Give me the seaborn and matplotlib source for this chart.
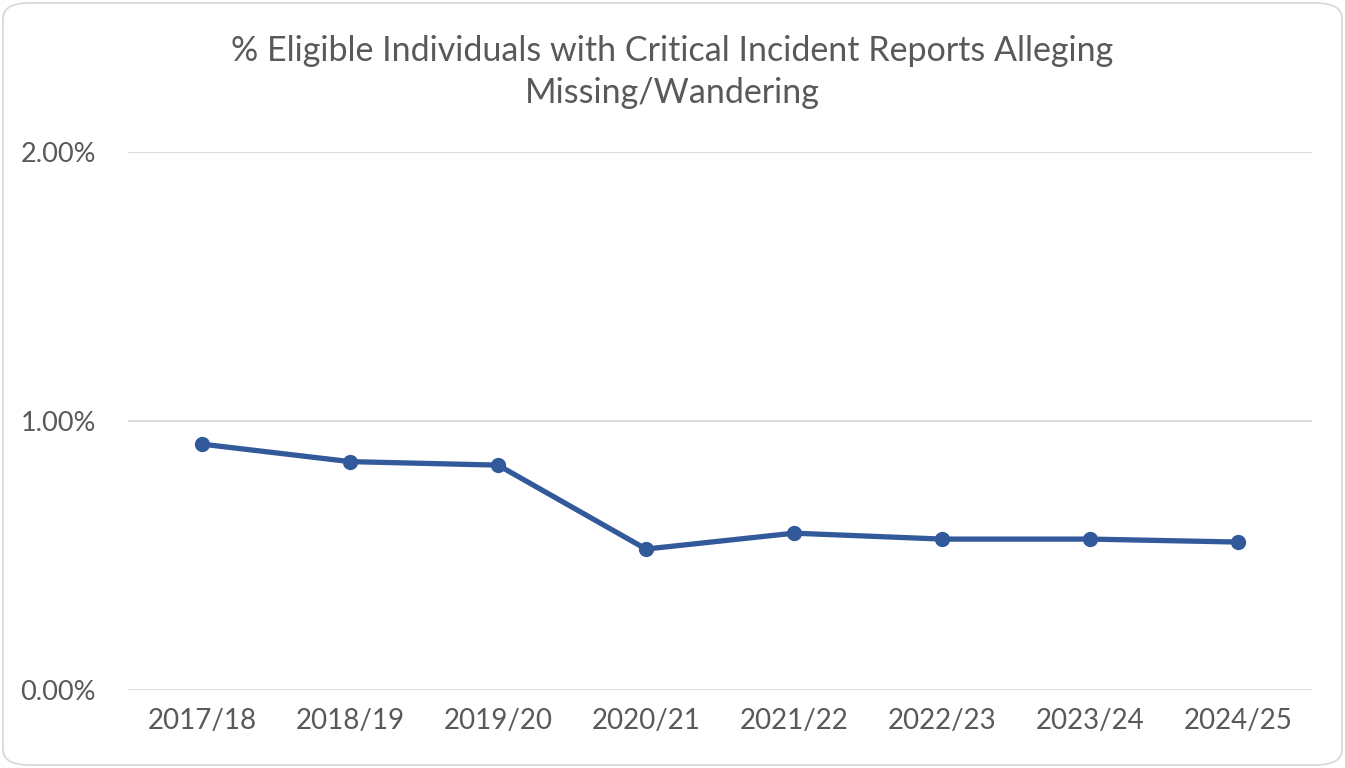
import matplotlib
matplotlib.use('Agg')
import matplotlib.pyplot as plt
import seaborn as sns
import pandas as pd
from matplotlib.patches import FancyBboxPatch
from matplotlib.ticker import PercentFormatter

years = ['2017/18', '2018/19', '2019/20', '2020/21', '2021/22', '2022/23', '2023/24', '2024/25']
pct = [0.914, 0.849, 0.836, 0.524, 0.583, 0.561, 0.561, 0.550]

df = pd.DataFrame({'Year': years, 'Pct': pct})

sns.set_style('white')
plt.rcParams['font.family'] = ['Lato', 'DejaVu Sans']

fig = plt.figure(figsize=(13.45, 7.68), dpi=100)
ax = fig.add_axes([128 / 1345, 1 - 690 / 768, 1184 / 1345, 538 / 768])

sns.lineplot(data=df, x='Year', y='Pct', ax=ax, color='#325A9B', linewidth=3.8,
             marker='o', markersize=11, markeredgewidth=0, sort=False)

ax.set_ylim(0, 2)
ax.set_xlim(-0.5, 7.5)
ax.set_yticks([0, 1, 2])
ax.yaxis.set_major_formatter(PercentFormatter(100, decimals=2))
ax.grid(axis='y', color='#D9D9D9', linewidth=1.3)
ax.set_axisbelow(True)
for s in ax.spines.values():
    s.set_visible(False)
ax.tick_params(axis='x', length=0, labelsize=20, labelcolor='#595959', pad=13)
ax.tick_params(axis='y', length=0, labelsize=19.5, labelcolor='#595959', pad=23)
ax.set_xlabel('')
ax.set_ylabel('')

fig.text(0.5, 1 - 72 / 768, '% Eligible Individuals with Critical Incident Reports Alleging\nMissing/Wandering',
         ha='center', va='center', fontsize=24.5, color='#595959', linespacing=1.35)

border = FancyBboxPatch((3 / 1345, 3 / 768), 1 - 6 / 1345, 1 - 6 / 768,
                        boxstyle='round,pad=0,rounding_size=0.02', transform=fig.transFigure,
                        facecolor='none', edgecolor='#D9D9D9', linewidth=1.3)
fig.patches.append(border)

fig.savefig('out.png', dpi=100, facecolor='white')
